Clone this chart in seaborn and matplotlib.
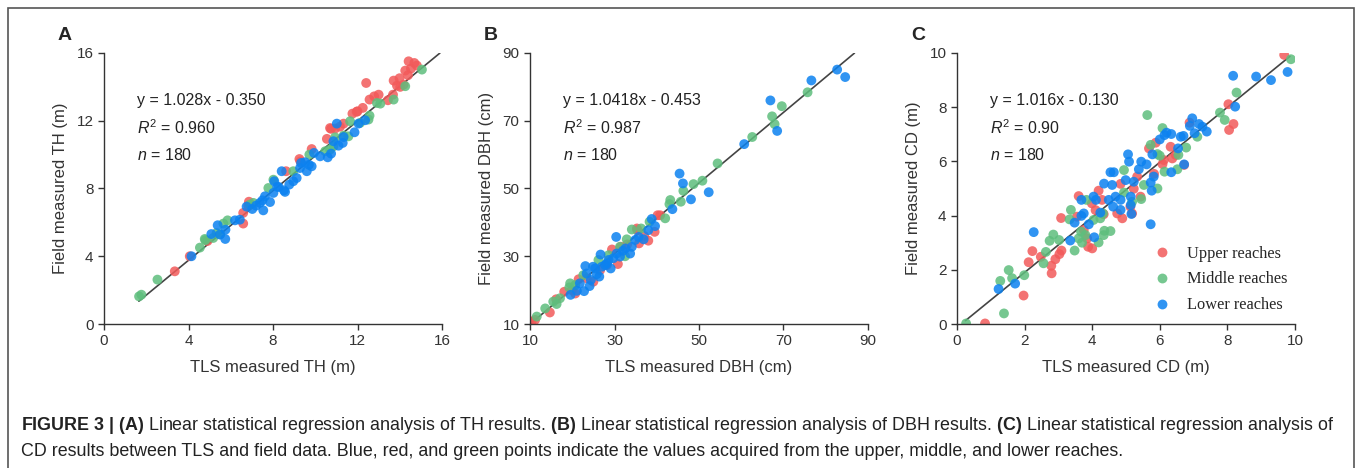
import pandas as pd
import seaborn as sns
import matplotlib.pyplot as plt
from matplotlib.patches import Rectangle

reaches = ['Upper reaches', 'Middle reaches', 'Lower reaches']
colors = ['#F25A5A', '#5EBE7D', '#0C82F0']

# (A) tree height, m
th_up_x = [3.35, 4.06, 6.59, 6.59, 6.86, 6.83, 8.62, 9.25, 9.83, 10.55, 10.75, 10.94, 11.34, 11.76,
           12.0, 12.25, 12.41, 12.57, 12.79, 13.0, 13.44, 13.68, 13.71, 13.87, 13.99, 14.26, 14.42,
           14.53, 14.69, 14.81, 14.39, 14.02, 14.18, 10.7, 11.17, 11.96, 4.9, 9.3]
th_up_y = [3.11, 4.0, 6.56, 5.93, 7.22, 6.99, 9.02, 9.74, 10.33, 10.93, 11.52, 11.54, 11.83, 12.42,
           12.56, 12.76, 14.23, 13.25, 13.44, 13.54, 13.21, 13.54, 14.37, 14.07, 14.51, 14.96, 15.51,
           15.08, 15.41, 15.26, 14.69, 14.0, 14.13, 11.57, 11.65, 12.53, 4.9, 9.6]
th_mid_x = [1.66, 1.77, 2.53, 4.54, 4.77, 5.17, 5.33, 5.65, 5.85, 6.91, 7.78, 8.96, 9.72, 10.47, 10.94,
            11.34, 11.57, 11.65, 12.12, 12.57, 12.52, 12.92, 13.08, 13.71, 14.26, 15.05, 10.7, 10.86,
            8.02, 7.07, 4.8, 5.5]
th_mid_y = [1.63, 1.73, 2.62, 4.51, 5.02, 5.08, 5.37, 5.93, 6.12, 7.05, 8.03, 9.02, 10.0, 10.2, 11.02,
            11.12, 11.08, 11.97, 11.87, 12.3, 12.07, 13.05, 13.01, 13.25, 14.04, 15.02, 10.3, 10.49,
            8.52, 7.15, 4.95, 5.3]
th_low_x = [4.14, 5.08, 5.38, 5.49, 5.74, 5.75, 6.2, 6.43, 7.02, 7.2, 7.38, 7.54, 7.62, 7.86, 8.06,
            8.27, 8.41, 8.52, 8.57, 8.77, 8.96, 9.12, 9.28, 9.33, 9.52, 9.6, 9.83, 9.94, 10.23, 10.59,
            10.75, 10.86, 11.02, 11.1, 11.3, 11.34, 11.86, 12.05, 12.36, 8.02, 6.75, 7.5, 8.2, 9.7]
th_low_y = [4.0, 5.31, 5.83, 5.28, 5.02, 5.57, 6.12, 6.16, 6.79, 6.99, 7.15, 6.71, 7.54, 7.2, 8.43,
            8.09, 9.02, 7.89, 7.8, 8.23, 8.43, 8.62, 9.21, 9.51, 9.55, 9.02, 9.31, 10.1, 9.9, 9.84,
            10.06, 10.79, 11.83, 10.53, 10.69, 11.04, 11.32, 11.83, 12.03, 7.74, 6.93, 7.3, 8.1, 9.4]

# (B) diameter at breast height, cm
dbh_up_x = [10.4, 14.7, 16.2, 18.1, 20.7, 21.5, 25.0, 29.4, 30.8, 31.5, 35.4, 35.8, 38.0, 39.5, 40.2,
            40.8, 35.3, 19.9, 26.6, 28.2, 11.2, 23.4, 33.0, 37.0]
dbh_up_y = [10.7, 13.4, 17.3, 19.5, 19.0, 23.2, 22.5, 32.0, 27.7, 32.8, 37.7, 33.8, 34.6, 37.2, 42.1,
            42.1, 38.2, 20.0, 25.9, 27.4, 11.2, 23.5, 33.5, 36.0]
dbh_mid_x = [11.6, 13.6, 16.3, 17.1, 19.5, 19.3, 20.7, 22.6, 26.2, 28.6, 32.5, 32.9, 34.1, 36.3, 38.3,
             42.0, 43.2, 43.0, 45.7, 46.3, 48.7, 50.8, 54.4, 62.6, 67.3, 67.9, 69.6, 75.7, 15.5, 31.3]
dbh_mid_y = [12.2, 14.6, 15.9, 17.6, 22.0, 20.8, 21.5, 24.4, 28.9, 30.3, 30.0, 35.0, 37.9, 38.2, 40.2,
             41.2, 46.6, 45.4, 46.1, 49.3, 51.3, 52.3, 57.4, 65.2, 71.3, 69.0, 74.3, 78.4, 16.6, 32.8]
dbh_low_x = [82.7, 84.6, 76.6, 66.9, 68.5, 60.7, 52.3, 48.1, 45.4, 46.2, 43.7, 38.8, 39.6, 38.0, 36.9,
             30.4, 26.7, 23.1, 19.6, 21.1, 22.8, 24.1, 24.4, 24.9, 25.8, 27.0, 27.8, 28.6, 29.1, 29.7,
             30.5, 31.3, 32.0, 32.6, 33.7, 34.1, 34.9, 35.7, 23.4, 26.4, 28.2, 21.8, 25.4]
dbh_low_y = [85.1, 82.9, 81.9, 76.0, 67.0, 63.1, 48.9, 46.8, 54.4, 51.5, 43.9, 41.0, 38.9, 37.7, 35.0,
             35.7, 30.5, 27.1, 18.6, 19.8, 19.7, 21.2, 23.0, 26.9, 24.7, 26.9, 27.4, 28.9, 26.4, 29.4,
             30.8, 29.9, 31.6, 32.3, 30.8, 32.8, 34.8, 35.7, 24.9, 24.0, 27.9, 22.0, 26.4]

# (C) crown diameter, m
cd_up_x = [9.68, 0.83, 1.97, 2.12, 2.23, 2.48, 2.79, 2.8, 2.91, 3.03, 3.09, 3.08, 3.6, 3.85, 3.88,
           4.0, 3.99, 4.1, 4.19, 4.29, 4.34, 4.74, 4.89, 4.84, 5.13, 5.18, 5.23, 5.33, 5.43, 5.68,
           5.83, 5.88, 6.08, 6.12, 6.32, 6.37, 6.47, 6.72, 6.88, 8.03, 8.05, 8.18, 3.55, 3.75]
cd_up_y = [9.93, 0.02, 1.05, 2.28, 2.69, 2.48, 2.15, 1.87, 2.39, 2.58, 2.71, 3.91, 4.72, 3.16, 2.85,
           2.79, 4.45, 4.2, 4.92, 4.58, 4.05, 4.08, 3.9, 5.17, 4.33, 4.08, 4.99, 5.44, 4.7, 6.48,
           5.54, 6.69, 5.9, 6.05, 6.54, 6.11, 6.24, 5.87, 7.43, 8.11, 7.16, 7.38, 3.96, 3.47]
cd_mid_x = [0.27, 1.28, 1.39, 1.53, 1.63, 1.99, 2.56, 2.63, 2.74, 2.85, 3.02, 3.33, 3.37, 3.48, 3.6,
            3.67, 3.7, 3.8, 3.83, 4.04, 4.19, 4.24, 4.32, 4.34, 4.36, 4.54, 4.94, 4.94, 5.18, 5.45,
            5.53, 5.63, 5.73, 5.93, 5.93, 6.0, 6.08, 6.14, 6.52, 6.55, 6.78, 7.11, 7.78, 7.92, 8.27, 9.88]
cd_mid_y = [0.02, 1.59, 0.39, 1.99, 1.69, 1.8, 2.24, 2.66, 3.07, 3.3, 3.1, 3.86, 4.21, 2.71, 3.16,
            3.41, 3.0, 3.28, 4.58, 3.84, 3.01, 3.9, 4.08, 3.28, 3.44, 3.43, 5.68, 4.85, 4.51, 4.61,
            5.13, 7.71, 6.61, 6.27, 5.0, 6.21, 7.23, 5.62, 5.71, 6.24, 6.51, 6.91, 7.8, 7.53, 8.54, 9.77]
cd_low_x = [1.23, 1.72, 2.27, 3.35, 3.48, 3.68, 3.68, 3.75, 3.9, 4.04, 4.06, 4.11, 4.24, 4.35, 4.49,
            4.54, 4.59, 4.64, 4.62, 4.69, 4.84, 4.84, 4.99, 5.06, 5.09, 5.14, 5.14, 5.16, 5.23, 5.38,
            5.45, 5.61, 5.73, 5.76, 5.78, 5.73, 5.82, 6.0, 6.14, 6.2, 6.34, 6.34, 6.54, 6.62, 6.7,
            6.72, 6.89, 6.96, 7.03, 7.16, 7.26, 7.39, 8.17, 8.23, 8.85, 9.29, 9.78]
cd_low_y = [1.29, 1.49, 3.39, 3.08, 3.74, 4.58, 3.99, 4.08, 3.68, 4.7, 3.2, 4.58, 4.11, 5.18, 4.58,
            5.6, 5.13, 5.6, 4.33, 4.7, 4.58, 4.21, 5.31, 6.26, 5.99, 4.7, 4.39, 4.06, 5.25, 5.71,
            5.99, 5.89, 5.22, 4.92, 6.26, 3.68, 5.44, 6.81, 6.97, 7.06, 7.01, 5.6, 6.48, 6.91, 6.94,
            5.89, 7.31, 7.59, 7.04, 7.38, 7.28, 7.1, 9.16, 8.02, 9.13, 9.0, 9.3]

# fitted lines (slope, intercept) and x range of the drawn line
th_fit = (1.028, -0.350)
th_fit_x = [1.65, 15.9]
dbh_fit = (1.0418, -0.453)
dbh_fit_x = [10.0, 86.8]
cd_fit = (1.016, -0.130)
cd_fit_x = [0.25, 9.85]

th_ticks = [0, 4, 8, 12, 16]
dbh_ticks = [10, 30, 50, 70, 90]
cd_ticks = [0, 2, 4, 6, 8, 10]

sns.set_style('ticks')
plt.rcParams['font.family'] = ['Liberation Sans', 'DejaVu Sans']
plt.rcParams['mathtext.fontset'] = 'custom'
plt.rcParams['mathtext.rm'] = 'Liberation Sans'
plt.rcParams['mathtext.it'] = 'Liberation Sans:italic'
plt.rcParams['mathtext.bf'] = 'Liberation Sans:bold'

txt = '#333333'


def make_df(groups):
    rows = []
    for name, (xs, ys) in zip(reaches, groups):
        rows.append(pd.DataFrame({'x': xs, 'y': ys, 'reach': name}))
    return pd.concat(rows, ignore_index=True)


fig = plt.figure(figsize=(13.6, 4.68), dpi=100)
fig.add_artist(Rectangle((8 / 1360, -0.05), 1346 / 1360, 1.05 - 8 / 468, transform=fig.transFigure,
                         fill=False, edgecolor='#555555', linewidth=1.2))

panels = [
    ('A', 104, make_df([(th_up_x, th_up_y), (th_mid_x, th_mid_y), (th_low_x, th_low_y)]), th_fit, th_fit_x,
     th_ticks, 'TLS measured TH (m)', 'Field measured TH (m)', ['y = 1.028x - 0.350', '$R^2$ = 0.960']),
    ('B', 530, make_df([(dbh_up_x, dbh_up_y), (dbh_mid_x, dbh_mid_y), (dbh_low_x, dbh_low_y)]), dbh_fit, dbh_fit_x,
     dbh_ticks, 'TLS measured DBH (cm)', 'Field measured DBH (cm)', ['y = 1.0418x - 0.453', '$R^2$ = 0.987']),
    ('C', 957, make_df([(cd_up_x, cd_up_y), (cd_mid_x, cd_mid_y), (cd_low_x, cd_low_y)]), cd_fit, cd_fit_x,
     cd_ticks, 'TLS measured CD (m)', 'Field measured CD (m)', ['y = 1.016x - 0.130', '$R^2$ = 0.90']),
]

for letter, left, df, fit, fit_x, ticks, xlab, ylab, eq in panels:
    ax = fig.add_axes([left / 1360, 1 - 324 / 468, 338 / 1360, 271 / 468])
    fy = [fit[0] * v + fit[1] for v in fit_x]
    sns.lineplot(x=fit_x, y=fy, color='#444444', linewidth=1.2, ax=ax, zorder=1)
    sns.scatterplot(data=df, x='x', y='y', hue='reach', hue_order=reaches, palette=colors,
                    s=50, alpha=0.85, edgecolor=None, linewidth=0, ax=ax, zorder=2,
                    legend=(letter == 'C'))
    ax.set_xlim(ticks[0], ticks[-1])
    ax.set_ylim(ticks[0], ticks[-1])
    ax.set_xticks(ticks)
    ax.set_yticks(ticks)
    ax.set_xlabel(xlab, fontsize=12, color=txt, labelpad=8)
    ax.set_ylabel(ylab, fontsize=12, color=txt, labelpad=6)
    ax.tick_params(labelsize=11, colors=txt, length=4, width=1)
    for s in ['top', 'right']:
        ax.spines[s].set_visible(False)
    for s in ['left', 'bottom']:
        ax.spines[s].set_color('#333333')
        ax.spines[s].set_linewidth(1)
    for k, line in enumerate(eq + ['$n$ = 180']):
        ax.text(0.098, 0.823 - k * 0.1, line, transform=ax.transAxes, fontsize=11.5, color='#222222',
                va='center', ha='left')
    fig.text((left - 39) / 1360, 1 - 35 / 468, letter, fontsize=14, fontweight='bold', va='center', ha='center')
    if letter == 'C':
        ax.legend(loc='lower left', bbox_to_anchor=(0.515, -0.015), frameon=False, handletextpad=0.5,
                  labelspacing=0.6, prop={'family': 'Liberation Serif', 'size': 11.8})

cap1 = (r'$\mathbf{FIGURE\ 3\ |\ (A)}$ Linear statistical regression analysis of TH results. '
        r'$\mathbf{(B)}$ Linear statistical regression analysis of DBH results. '
        r'$\mathbf{(C)}$ Linear statistical regression analysis of')
cap2 = ('CD results between TLS and field data. Blue, red, and green points indicate the values '
        'acquired from the upper, middle, and lower reaches.')
fig.text(21 / 1360, 1 - 425 / 468, cap1, fontsize=12.9, color='#222222', va='center', ha='left')
fig.text(21 / 1360, 1 - 451 / 468, cap2, fontsize=12.9, color='#222222', va='center', ha='left')

plt.savefig('out.png', dpi=100)
